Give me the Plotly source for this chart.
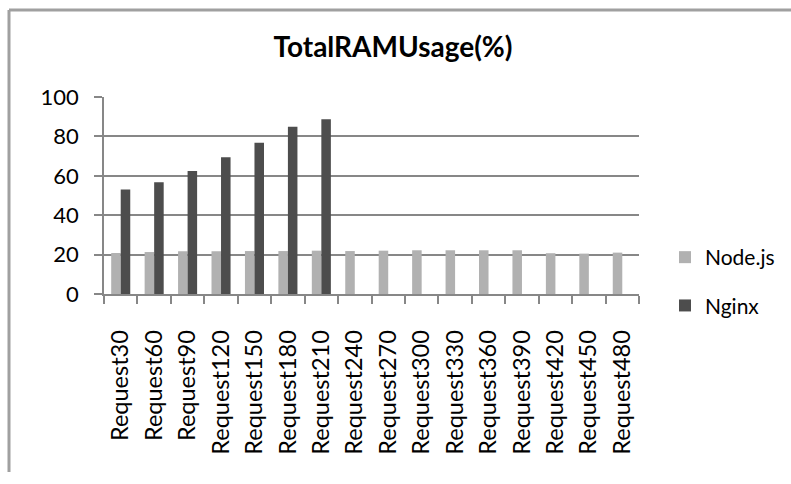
import plotly.graph_objects as go

categories = ["Request30", "Request60", "Request90", "Request120", "Request150",
              "Request180", "Request210", "Request240", "Request270", "Request300",
              "Request330", "Request360", "Request390", "Request420", "Request450",
              "Request480"]
node_values = [20.8, 21.3, 21.7, 21.7, 21.8, 21.8, 22.0, 21.8, 22.0, 22.2,
               22.2, 22.2, 22.2, 20.7, 20.5, 21.0]
nginx_values = [53.1, 56.7, 62.4, 69.4, 76.8, 84.9, 88.7, None, None, None,
                None, None, None, None, None, None]
y_ticks = [0, 20, 40, 60, 80, 100]

FONT = "Lato"
GRID = "#878787"

fig = go.Figure()
fig.add_trace(go.Bar(name="Node.js", x=categories, y=node_values,
                     marker=dict(color="#B1B1B1", line=dict(width=0)),
                     legendgroup="a"))
fig.add_trace(go.Bar(name="Nginx", x=categories, y=nginx_values,
                     marker=dict(color="#4D4D4D", line=dict(width=0)),
                     legendgroup="b"))

L, R, T, B = 104, 152, 97, 190
W, H = 791, 484
pw, ph = W - L - R, H - T - B

def px_x(p):
    return (p - L) / pw

def px_y(p):
    return (H - B - p) / ph

fig.update_layout(
    width=W, height=H,
    margin=dict(l=L, r=R, t=T, b=B, pad=0, autoexpand=False),
    paper_bgcolor="white", plot_bgcolor="white",
    barmode="group", bargap=0.43, bargroupgap=0,
    font=dict(family=FONT, color="black"),
    title=dict(text="<b>TotalRAMUsage(%)</b>", font=dict(family=FONT, size=28, color="black"),
               x=px_x(393), xref="paper", xanchor="center",
               y=1 - 47 / H, yref="container", yanchor="middle"),
    xaxis=dict(type="category", showgrid=False, showline=True, linecolor=GRID, linewidth=1.5,
               ticks="outside", ticklen=8, tickcolor=GRID, tickwidth=1.5,
               tickson="boundaries", tickangle=-90,
               tickfont=dict(family=FONT, size=23.5, color="black"),
               ticklabelstandoff=25),
    yaxis=dict(range=[0, 100], tickvals=y_ticks, showgrid=True, gridcolor=GRID, gridwidth=1.5,
               zeroline=False, showline=True, linecolor=GRID, linewidth=1.5,
               ticks="outside", ticklen=8, tickcolor=GRID, tickwidth=1.5,
               tickfont=dict(family=FONT, size=22, color="black"),
               ticklabelstandoff=11),
    legend=dict(x=px_x(665), y=px_y(237), xanchor="left", yanchor="top",
                font=dict(family=FONT, size=21, color="black"),
                tracegroupgap=18, traceorder="grouped", itemwidth=30,
                bgcolor="rgba(0,0,0,0)"),
    shapes=[
        dict(type="line", xref="paper", yref="paper", x0=px_x(9), x1=px_x(791),
             y0=px_y(10), y1=px_y(10), line=dict(color="#A0A0A0", width=3), layer="above"),
        dict(type="line", xref="paper", yref="paper", x0=px_x(9), x1=px_x(9),
             y0=px_y(10), y1=px_y(472), line=dict(color="#A0A0A0", width=3), layer="above"),
    ],
)

fig.write_html("out.html", config={"displayModeBar": False},
               post_script="document.body.style.margin='0px';document.body.style.padding='0px';"
                           "document.documentElement.style.margin='0px';window.scrollTo(0,0);")
